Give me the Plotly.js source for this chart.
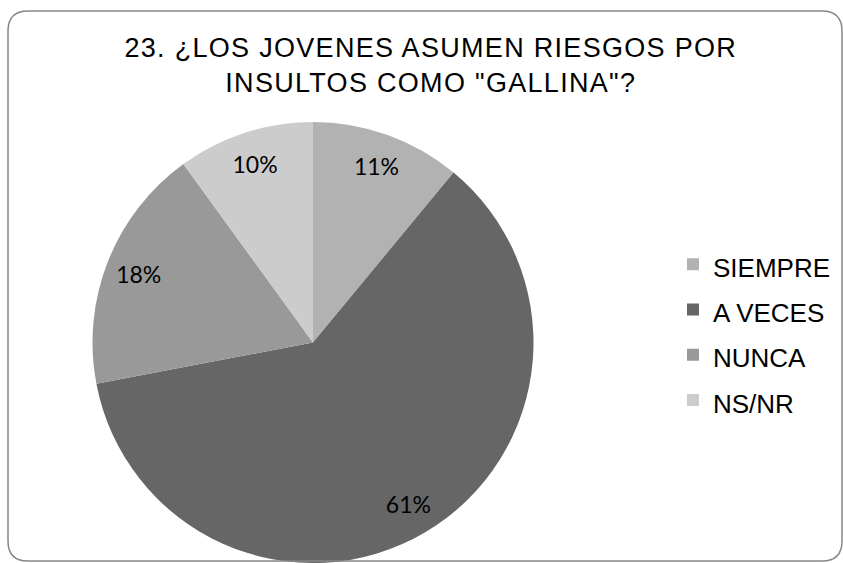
<!DOCTYPE html>
<html><head><meta charset="utf-8">
<script src="https://cdn.plot.ly/plotly-3.0.1.min.js"></script>
<style>html,body{margin:0;padding:0;background:#fff;}#chart{width:843px;height:563px;}</style>
</head><body><div id="chart"></div>
<script>
const categories = ['SIEMPRE', 'A VECES', 'NUNCA', 'NS/NR'];
const values = [11, 61, 18, 10];
const colors = ['#b2b2b2', '#666666', '#999999', '#cccccc'];
const titleLines = ['23. ¿LOS JOVENES ASUMEN RIESGOS POR', 'INSULTOS COMO "GALLINA"?'];

const W = 843, H = 563;
function px(x){return x/W;} function py(y){return 1 - y/H;}
const L=8, T=11, R=842, B=561, r=20;
const frame = `M ${px(L)} ${py(T+r)} Q ${px(L)} ${py(T)} ${px(L+r)} ${py(T)} L ${px(R-r)} ${py(T)} Q ${px(R)} ${py(T)} ${px(R)} ${py(T+r)} L ${px(R)} ${py(B-r)} Q ${px(R)} ${py(B)} ${px(R-r)} ${py(B)} L ${px(L+r)} ${py(B)} Q ${px(L)} ${py(B)} ${px(L)} ${py(B-r)} Z`;

const pieDomain = {x: [91/W, 535/W], y: [0, 1 - 122/H]};
const legendLabels = categories.map(c => '<span style="font-size:26px">' + c + '</span>');

const data = [{
  type: 'pie',
  labels: legendLabels,
  values: values,
  marker: {colors: colors, line: {width: 0}},
  sort: false,
  direction: 'clockwise',
  rotation: 0,
  textinfo: 'none',
  hoverinfo: 'none',
  domain: pieDomain
}, {
  type: 'pie',
  labels: legendLabels,
  values: values,
  marker: {colors: categories.map(() => 'rgba(0,0,0,0)'), line: {width: 0}},
  sort: false,
  direction: 'clockwise',
  rotation: 0,
  hole: 0.7,
  showlegend: false,
  texttemplate: '%{value}%',
  textposition: 'inside',
  insidetextorientation: 'horizontal',
  textfont: {family: 'Lato, Carlito, sans-serif', size: 23, color: '#000'},
  hoverinfo: 'none',
  domain: pieDomain
}];

const layout = {
  width: W, height: H,
  margin: {l: 0, r: 0, t: 0, b: 0},
  paper_bgcolor: '#fff',
  showlegend: true,
  title: {
    text: titleLines.map(t => '<span style="letter-spacing:1.3px">' + t + '</span>').join('<br>'),
    font: {family: 'Liberation Sans, Arial, sans-serif', size: 27, color: '#000'},
    x: 0.511, xanchor: 'center', xref: 'paper',
    y: 1 - 57/H, yanchor: 'top', yref: 'paper'
  },
  legend: {
    x: 673/W, xanchor: 'left',
    y: 1 - 332/H, yanchor: 'middle',
    font: {family: 'Liberation Sans, Arial, sans-serif', size: 32.5, color: '#000'},
    itemwidth: 30,
    bgcolor: 'rgba(0,0,0,0)'
  },
  shapes: [{type: 'path', xref: 'paper', yref: 'paper', path: frame, line: {color: '#878787', width: 1.5}, layer: 'above'}]
};

Plotly.newPlot('chart', data, layout, {displayModeBar: false, staticPlot: true});
</script></body></html>
